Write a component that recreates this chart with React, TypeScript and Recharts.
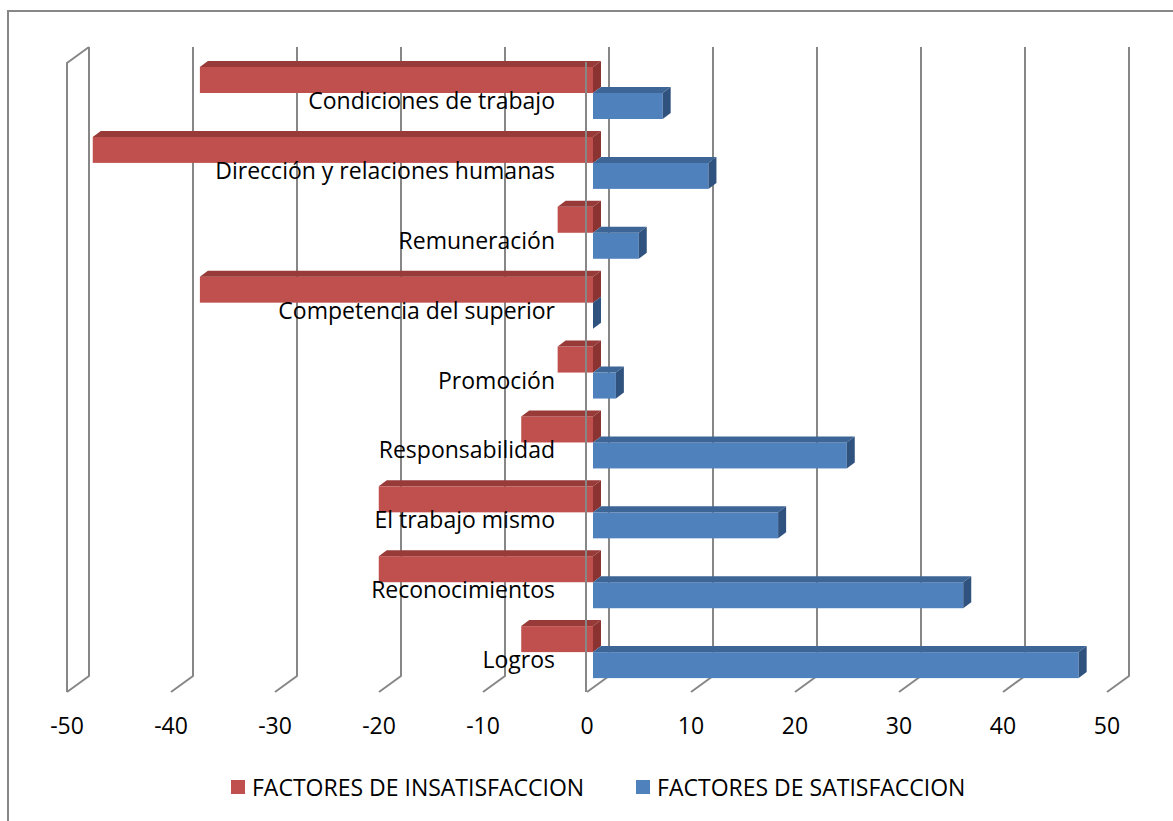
import React from 'react';
import {
  BarChart,
  Bar,
  XAxis,
  YAxis,
  CartesianGrid,
  Legend,
  LabelList,
  ReferenceLine,
} from 'recharts';

// Factores de Herzberg: porcentaje de menciones por factor
const categories = [
  'Condiciones de trabajo',
  'Dirección y relaciones humanas',
  'Remuneración',
  'Competencia del superior',
  'Promoción',
  'Responsabilidad',
  'El trabajo mismo',
  'Reconocimientos',
  'Logros',
];
const insatisfaccion = [-37.8, -48.1, -3.4, -37.8, -3.4, -6.9, -20.6, -20.6, -6.9];
const satisfaccion = [6.7, 11.1, 4.4, 0, 2.2, 24.4, 17.8, 35.6, 46.7];
const xTicks = [-50, -40, -30, -20, -10, 0, 10, 20, 30, 40, 50];
const seriesNames = ['FACTORES DE INSATISFACCION', 'FACTORES DE SATISFACCION'];

const data = categories.map((name, i) => ({
  name,
  insat: insatisfaccion[i],
  sat: satisfaccion[i],
}));

const FONT = '"Open Sans", "Noto Sans", sans-serif';
const FONT_SIZE = 23;
const GRID = '#878787';

// pseudo-3D geometry
const BAR_DX = 8;
const BAR_DY = 6;
const BACK_DX = 16;
const FRONT_DX = 6;
const BACK_RISE = 11;
const FRONT_DROP = 5;

const RED = { front: '#C0504D', top: '#973A38', side: '#8A3331' };
const BLUE = { front: '#4F81BD', top: '#3D6696', side: '#30527F' };

const prism = (faces: { front: string; top: string; side: string }) => (p: any) => {
  const rawW = p.width ?? 0;
  const rawH = p.height ?? 0;
  const left = Math.min(p.x, p.x + rawW);
  const top = Math.min(p.y, p.y + rawH);
  const w = Math.abs(rawW);
  const h = Math.abs(rawH);
  const right = left + w;
  const bottom = top + h;
  return (
    <g>
      <rect x={left} y={top} width={w} height={h} fill={faces.front} />
      <polygon
        points={`${left},${top} ${left + BAR_DX},${top - BAR_DY} ${right + BAR_DX},${top - BAR_DY} ${right},${top}`}
        fill={faces.top}
      />
      <polygon
        points={`${right},${top} ${right + BAR_DX},${top - BAR_DY} ${right + BAR_DX},${bottom - BAR_DY} ${right},${bottom}`}
        fill={faces.side}
      />
    </g>
  );
};

// back-wall gridline that bends onto the floor; the first one also closes the left wall
const gridLine = (p: any) => {
  const x = p.x1;
  const top = Math.min(p.y1, p.y2);
  const bottom = Math.max(p.y1, p.y2);
  const isFirst = p.index === 0;
  return (
    <g key={p.key ?? `g-${x}`}>
      <path
        d={`M${x + BACK_DX},${top - BACK_RISE} V${bottom - BACK_RISE} L${x - FRONT_DX},${bottom + FRONT_DROP}`}
        stroke={GRID}
        strokeWidth={2}
        fill="none"
      />
      {isFirst && (
        <path
          d={`M${x + BACK_DX},${top - BACK_RISE} L${x - FRONT_DX},${top + FRONT_DROP} V${bottom + FRONT_DROP}`}
          stroke={GRID}
          strokeWidth={2}
          fill="none"
        />
      )}
    </g>
  );
};

const zeroLine = (p: any) => {
  const x = p.x1 - 7;
  const top = Math.min(p.y1, p.y2);
  const bottom = Math.max(p.y1, p.y2);
  return (
    <line x1={x} y1={top + 4} x2={x} y2={bottom + FRONT_DROP} stroke={GRID} strokeWidth={2} />
  );
};

const xTick = (p: any) => (
  <text
    x={p.x - FRONT_DX}
    y={p.y + 47}
    textAnchor="middle"
    fontFamily={FONT}
    fontSize={FONT_SIZE}
    fill="#000"
  >
    {p.payload.value}
  </text>
);

const categoryLabel = (p: any) => (
  <text
    x={p.x - 38}
    y={p.y + 16}
    textAnchor="end"
    fontFamily={FONT}
    fontSize={FONT_SIZE}
    fill="#000"
  >
    {p.value}
  </text>
);

const legendContent = (props: any) => {
  const items = props.payload ?? [];
  return (
    <div
      style={{
        display: 'flex',
        alignItems: 'center',
        paddingLeft: 231,
        fontFamily: FONT,
        fontSize: FONT_SIZE,
        lineHeight: '28px',
        color: '#000',
      }}
    >
      {items.map((it: any, i: number) => (
        <div
          key={i}
          style={{ display: 'flex', alignItems: 'center', marginRight: i === 0 ? 52 : 0 }}
        >
          <span
            style={{
              display: 'inline-block',
              width: 14,
              height: 14,
              background: it.color,
              marginRight: 7,
            }}
          />
          <span>{it.value}</span>
        </div>
      ))}
    </div>
  );
};

export default function App() {
  return (
    <div
      style={{
        position: 'absolute',
        left: 0,
        top: 0,
        width: 1173,
        height: 821,
        overflow: 'hidden',
        background: '#fff',
      }}
    >
      <div
        style={{
          position: 'absolute',
          left: 7,
          top: 10,
          width: 1400,
          height: 1000,
          borderLeft: `2px solid ${GRID}`,
          borderTop: `2px solid ${GRID}`,
        }}
      />
      <div style={{ position: 'absolute', left: 0, top: 0 }}>
        <BarChart
          width={1173}
          height={821}
          data={data}
          layout="vertical"
          margin={{ top: 58, right: 60, bottom: 94, left: 73 }}
          barCategoryGap={9}
          barGap={0}
        >
          <CartesianGrid horizontal={false} vertical={gridLine} />
          <XAxis
            type="number"
            domain={[-50, 50]}
            ticks={xTicks}
            axisLine={false}
            tickLine={false}
            tickSize={0}
            tickMargin={0}
            height={40}
            tick={xTick}
            interval={0}
          />
          <YAxis type="category" dataKey="name" hide />
          <Bar
            dataKey="insat"
            name={seriesNames[0]}
            fill={RED.front}
            shape={prism(RED)}
            isAnimationActive={false}
          />
          <Bar
            dataKey="sat"
            name={seriesNames[1]}
            fill={BLUE.front}
            shape={prism(BLUE)}
            isAnimationActive={false}
          >
            <LabelList dataKey="name" content={categoryLabel} />
          </Bar>
          <ReferenceLine x={0} shape={zeroLine} />
          <Legend
            layout="horizontal"
            verticalAlign="middle"
            align="center"
            content={legendContent}
            wrapperStyle={{ top: 773, left: 0, width: 1173 }}
          />
        </BarChart>
      </div>
    </div>
  );
}
